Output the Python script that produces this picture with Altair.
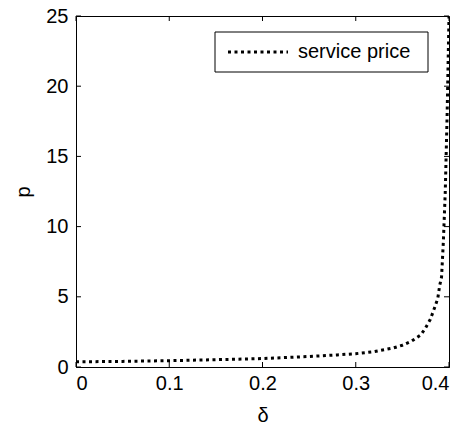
import altair as alt
import pandas as pd

# Data
delta = [0.0, 0.05, 0.1, 0.15, 0.2, 0.25, 0.28, 0.3, 0.32, 0.34, 0.35, 0.36,
         0.37, 0.375, 0.38, 0.385, 0.388, 0.39, 0.392, 0.394, 0.396, 0.398, 0.399, 0.4]
price = [0.37, 0.40, 0.45, 0.52, 0.60, 0.75, 0.86, 0.95, 1.10, 1.35, 1.55, 1.85,
         2.30, 2.80, 3.40, 4.30, 4.90, 5.80, 6.40, 9.00, 12.5, 18.0, 21.5, 25.0]
series_name = "service price"

x_ticks = [0.0, 0.1, 0.2, 0.3, 0.4]
y_ticks = [0, 5, 10, 15, 20, 25]

W, H = 373, 351
TL = 5  # inward tick length
FONT = "Liberation Sans"
DASH = [3, 3.5]

df = pd.DataFrame({"delta": delta, "p": price})
xt = pd.DataFrame({"delta": x_ticks})
yt = pd.DataFrame({"p": y_ticks})
leg = pd.DataFrame({"label": [series_name]})

xscale = alt.Scale(domain=[0, 0.4], nice=False, zero=False)
yscale = alt.Scale(domain=[0, 25], nice=False)

line = alt.Chart(df).mark_line(strokeWidth=3, strokeDash=DASH, clip=True, color="black").encode(
    x=alt.X("delta:Q", scale=xscale,
            axis=alt.Axis(title="δ", values=x_ticks, format=".1~f", tickSize=0,
                          labelPadding=6, titleX=W / 2, titleY=54,
                          titleBaseline="alphabetic", titleAlign="center")),
    y=alt.Y("p:Q", scale=yscale,
            axis=alt.Axis(title="p", values=y_ticks, format="d", tickSize=0,
                          labelPadding=8, titleX=-47, titleY=H / 2,
                          titleBaseline="alphabetic", titleAngle=-90, titleAlign="center")),
)

tick_style = dict(color="black", strokeWidth=1)
xb = alt.Chart(xt).mark_rule(**tick_style).encode(x="delta:Q", y=alt.value(H), y2=alt.value(H - TL))
xtop = alt.Chart(xt).mark_rule(**tick_style).encode(x="delta:Q", y=alt.value(0), y2=alt.value(TL))
yl = alt.Chart(yt).mark_rule(**tick_style).encode(y="p:Q", x=alt.value(0), x2=alt.value(TL))
yr = alt.Chart(yt).mark_rule(**tick_style).encode(y="p:Q", x=alt.value(W - TL), x2=alt.value(W))

# legend box (drawn by hand, MATLAB style)
LX0, LX1, LY0, LY1 = 139, 352, 16, 56
LYM = (LY0 + LY1) / 2
leg_box = alt.Chart(leg).mark_rect(fill="white", stroke="black", strokeWidth=1).encode(
    x=alt.value(LX0), x2=alt.value(LX1), y=alt.value(LY0), y2=alt.value(LY1))
leg_line = alt.Chart(leg).mark_rule(color="black", strokeWidth=3, strokeDash=DASH).encode(
    x=alt.value(LX0 + 13), x2=alt.value(LX0 + 73), y=alt.value(LYM))
leg_text = alt.Chart(leg).mark_text(align="left", baseline="middle", font=FONT, fontSize=20,
                                    color="black").encode(
    x=alt.value(LX0 + 83), y=alt.value(LYM), text="label:N")

chart = alt.layer(xb, xtop, yl, yr, line, leg_box, leg_line, leg_text).properties(
    width=W, height=H,
    background="white",
    autosize=alt.AutoSizeParams(type="none"),
    padding={"left": 68, "top": 8, "right": 8, "bottom": 58},
).configure_view(stroke="black", strokeWidth=1).configure_axis(
    domainColor="black", labelFont=FONT, labelFontSize=20, labelColor="black",
    titleFont=FONT, titleFontSize=20, titleColor="black", titleFontWeight="normal",
    grid=False,
)

chart.save("out.html", embed_options={"renderer": "svg", "actions": False})
